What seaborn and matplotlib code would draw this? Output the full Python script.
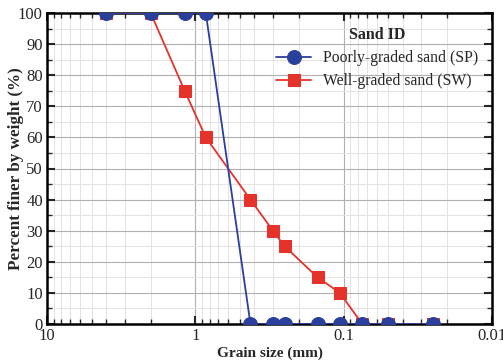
import numpy as np
import pandas as pd
import seaborn as sns
import matplotlib
matplotlib.use("Agg")
import matplotlib.pyplot as plt
from matplotlib.ticker import LogLocator, FixedLocator, FuncFormatter, MultipleLocator, NullFormatter

# sieve sizes (mm) and percent finer
grain_size = [4.0, 2.0, 1.18, 0.85, 0.425, 0.3, 0.25, 0.15, 0.106, 0.075, 0.05, 0.025]
sp_finer = [100, 100, 100, 100, 0, 0, 0, 0, 0, 0, 0, 0]
sw_finer = [100, 100, 75, 60, 40, 30, 25, 15, 10, 0, 0, 0]
sand_ids = ["Poorly-graded sand (SP)", "Well-graded sand (SW)"]

df = pd.DataFrame({
    "size": grain_size * 2,
    "finer": sp_finer + sw_finer,
    "sand": [sand_ids[0]] * len(grain_size) + [sand_ids[1]] * len(grain_size),
})

sns.set_style("ticks")
plt.rcParams["font.family"] = ["Liberation Serif", "DejaVu Serif"]

blue = "#2b3f9c"
red = "#e5322a"

fig = plt.figure(figsize=(5.03, 3.62), dpi=100)
ax = fig.add_axes([47 / 503, 1 - 324 / 362, 445 / 503, 311 / 362])

# red first so the blue circles sit on top
sns.lineplot(data=df[df.sand == sand_ids[1]], x="size", y="finer", ax=ax,
             color=red, marker="s", markersize=9, markeredgecolor=red,
             linewidth=1.3, label=sand_ids[1], zorder=3)
sns.lineplot(data=df[df.sand == sand_ids[0]], x="size", y="finer", ax=ax,
             color=blue, marker="o", markersize=10, markeredgecolor=blue,
             linewidth=1.3, label=sand_ids[0], zorder=4)

ax.set_xscale("log")
ax.set_xlim(10, 0.01)
ax.set_ylim(0, 100)

ax.xaxis.set_major_locator(FixedLocator([10, 1, 0.1, 0.01]))
ax.xaxis.set_major_formatter(FuncFormatter(lambda v, p: f"{v:g}"))
ax.xaxis.set_minor_locator(LogLocator(base=10, subs=np.arange(2, 10)))
ax.xaxis.set_minor_formatter(NullFormatter())
ax.yaxis.set_major_locator(MultipleLocator(10))
ax.yaxis.set_minor_locator(MultipleLocator(5))

ax.grid(which="major", color="#b0b0b0", linewidth=0.8)
ax.grid(which="minor", color="#e3e3e3", linewidth=0.7)
ax.set_axisbelow(True)

for s in ax.spines.values():
    s.set_linewidth(1.8)
    s.set_color("black")
ax.tick_params(which="both", direction="in", top=True, right=True, labelsize=12, pad=3)
ax.tick_params(which="major", length=6, width=1.5)
ax.tick_params(which="minor", length=3.5, width=1)

ax.set_xlabel("Grain size (mm)", fontsize=11, fontweight="bold", labelpad=2)
ax.set_ylabel("Percent finer by weight (%)", fontsize=12.3, fontweight="bold")
ax.yaxis.set_label_coords(-0.052, 0.5)

handles, labels = ax.get_legend_handles_labels()
order = [labels.index(sand_ids[0]), labels.index(sand_ids[1])]
leg = ax.legend([handles[i] for i in order], [labels[i] for i in order],
                title="Sand ID", loc="upper right", frameon=False, fontsize=11.3,
                title_fontproperties={"weight": "bold", "size": 11.5},
                handlelength=2.2, handletextpad=0.75, borderaxespad=0.5,
                labelspacing=0.45)

fig.savefig("out.png", dpi=100)
